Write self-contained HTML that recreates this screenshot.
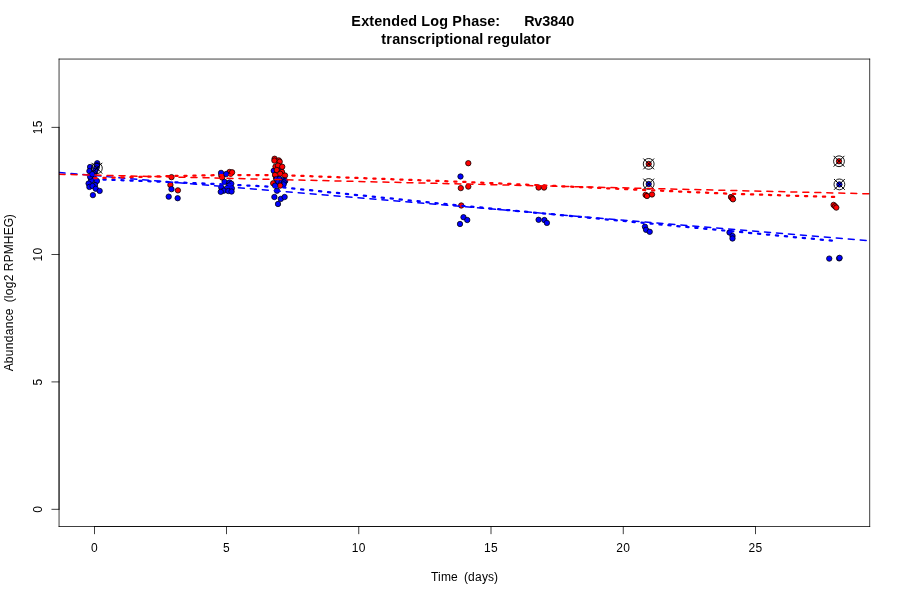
<!DOCTYPE html>
<html lang="en"><head><meta charset="utf-8"><title>Extended Log Phase: Rv3840</title>
<style>html,body{margin:0;padding:0;background:#fff}body{width:900px;height:600px;overflow:hidden}</style></head>
<body>
<svg width="900" height="600" viewBox="0 0 900 600" style="display:block;font-family:'Liberation Sans',Arial,Helvetica,sans-serif">
<rect width="900" height="600" fill="#fff"/>
<defs><clipPath id="c"><rect x="59.04" y="59.04" width="810.72" height="467.52"/></clipPath></defs>
<g clip-path="url(#c)" stroke="#000" stroke-width="0.75">
<circle cx="96.50" cy="167.50" r="2.7" fill="#f00"/><circle cx="91.00" cy="178.50" r="2.7" fill="#f00"/><circle cx="90.10" cy="167.00" r="2.7" fill="#00f"/><circle cx="89.40" cy="171.10" r="2.7" fill="#00f"/><circle cx="97.25" cy="163.25" r="2.7" fill="#00f"/><circle cx="96.90" cy="166.00" r="2.7" fill="#00f"/><circle cx="96.30" cy="168.60" r="2.7" fill="#00f"/><circle cx="95.20" cy="171.00" r="2.7" fill="#00f"/><circle cx="94.00" cy="173.30" r="2.7" fill="#00f"/><circle cx="94.00" cy="178.00" r="2.7" fill="#00f"/><circle cx="91.25" cy="180.50" r="2.7" fill="#00f"/><circle cx="96.90" cy="181.00" r="2.7" fill="#00f"/><circle cx="88.60" cy="183.50" r="2.7" fill="#00f"/><circle cx="95.00" cy="185.00" r="2.7" fill="#00f"/><circle cx="89.40" cy="186.90" r="2.7" fill="#00f"/><circle cx="92.50" cy="186.00" r="2.7" fill="#00f"/><circle cx="95.75" cy="188.75" r="2.7" fill="#00f"/><circle cx="99.65" cy="190.90" r="2.7" fill="#00f"/><circle cx="92.90" cy="195.10" r="2.7" fill="#00f"/><circle cx="96.90" cy="168.20" r="5.4" fill="none" stroke-width="0.9"/><path d="M91.50 162.80L102.30 173.60M91.50 173.60L102.30 162.80" fill="none" stroke-width="1"/><circle cx="90.10" cy="176.75" r="2.7" fill="#00f"/><circle cx="92.20" cy="174.20" r="2.7" fill="#00f"/><circle cx="171.50" cy="177.15" r="2.7" fill="#f00"/><circle cx="170.40" cy="184.90" r="2.7" fill="#f00"/><circle cx="177.90" cy="190.35" r="2.7" fill="#f00"/><circle cx="171.50" cy="189.15" r="2.7" fill="#00f"/><circle cx="168.70" cy="196.65" r="2.7" fill="#00f"/><circle cx="177.65" cy="198.20" r="2.7" fill="#00f"/><circle cx="230.70" cy="173.75" r="2.7" fill="#f00"/><circle cx="229.50" cy="172.00" r="2.7" fill="#f00"/><circle cx="232.10" cy="172.30" r="2.7" fill="#f00"/><circle cx="221.30" cy="175.50" r="2.7" fill="#f00"/><circle cx="222.20" cy="177.55" r="2.7" fill="#f00"/><circle cx="221.05" cy="172.90" r="2.7" fill="#00f"/><circle cx="226.30" cy="174.05" r="2.7" fill="#00f"/><circle cx="224.55" cy="181.90" r="2.7" fill="#00f"/><circle cx="229.50" cy="182.50" r="2.7" fill="#00f"/><circle cx="231.30" cy="183.70" r="2.7" fill="#00f"/><circle cx="228.90" cy="185.70" r="2.7" fill="#00f"/><circle cx="221.30" cy="187.50" r="2.7" fill="#00f"/><circle cx="226.90" cy="188.35" r="2.7" fill="#00f"/><circle cx="231.85" cy="188.35" r="2.7" fill="#00f"/><circle cx="223.70" cy="190.70" r="2.7" fill="#00f"/><circle cx="228.35" cy="191.00" r="2.7" fill="#00f"/><circle cx="220.75" cy="191.85" r="2.7" fill="#00f"/><circle cx="231.55" cy="191.55" r="2.7" fill="#00f"/><circle cx="273.70" cy="170.80" r="2.7" fill="#00f"/><circle cx="280.50" cy="170.00" r="2.7" fill="#00f"/><circle cx="274.60" cy="158.75" r="2.7" fill="#f00"/><circle cx="278.80" cy="160.40" r="2.7" fill="#f00"/><circle cx="274.40" cy="160.60" r="2.7" fill="#f00"/><circle cx="279.70" cy="161.70" r="2.7" fill="#f00"/><circle cx="275.50" cy="166.60" r="2.7" fill="#f00"/><circle cx="278.00" cy="165.60" r="2.7" fill="#f00"/><circle cx="282.25" cy="166.75" r="2.7" fill="#f00"/><circle cx="282.00" cy="172.00" r="2.7" fill="#f00"/><circle cx="276.75" cy="170.00" r="2.7" fill="#f00"/><circle cx="275.00" cy="175.00" r="2.7" fill="#f00"/><circle cx="280.25" cy="173.75" r="2.7" fill="#f00"/><circle cx="285.00" cy="175.50" r="2.7" fill="#f00"/><circle cx="276.00" cy="178.00" r="2.7" fill="#f00"/><circle cx="273.20" cy="183.30" r="2.7" fill="#f00"/><circle cx="276.70" cy="179.00" r="2.7" fill="#00f"/><circle cx="279.50" cy="179.00" r="2.7" fill="#00f"/><circle cx="283.40" cy="180.20" r="2.7" fill="#00f"/><circle cx="285.20" cy="180.90" r="2.7" fill="#00f"/><circle cx="278.30" cy="181.80" r="2.7" fill="#00f"/><circle cx="281.50" cy="182.50" r="2.7" fill="#00f"/><circle cx="284.00" cy="182.40" r="2.7" fill="#00f"/><circle cx="283.60" cy="184.40" r="2.7" fill="#00f"/><circle cx="280.20" cy="185.60" r="2.7" fill="#f00"/><circle cx="275.10" cy="185.60" r="2.7" fill="#00f"/><circle cx="277.00" cy="190.70" r="2.7" fill="#00f"/><circle cx="274.40" cy="197.00" r="2.7" fill="#00f"/><circle cx="280.80" cy="198.90" r="2.7" fill="#00f"/><circle cx="284.60" cy="197.00" r="2.7" fill="#00f"/><circle cx="278.00" cy="204.00" r="2.7" fill="#00f"/><circle cx="468.30" cy="163.20" r="2.7" fill="#f00"/><circle cx="460.80" cy="188.10" r="2.7" fill="#f00"/><circle cx="468.30" cy="186.60" r="2.7" fill="#f00"/><circle cx="461.25" cy="205.50" r="2.7" fill="#f00"/><circle cx="460.50" cy="176.50" r="2.7" fill="#00f"/><circle cx="463.50" cy="217.20" r="2.7" fill="#00f"/><circle cx="467.25" cy="220.00" r="2.7" fill="#00f"/><circle cx="460.00" cy="224.00" r="2.7" fill="#00f"/><circle cx="538.60" cy="187.55" r="2.7" fill="#f00"/><circle cx="544.05" cy="187.55" r="2.7" fill="#f00"/><circle cx="538.60" cy="219.80" r="2.7" fill="#00f"/><circle cx="544.40" cy="220.05" r="2.7" fill="#00f"/><circle cx="546.90" cy="222.90" r="2.7" fill="#00f"/><circle cx="648.70" cy="163.90" r="2.7" fill="#f00"/><circle cx="648.70" cy="163.90" r="5.4" fill="none" stroke-width="0.9"/><path d="M643.30 158.50L654.10 169.30M643.30 169.30L654.10 158.50" fill="none" stroke-width="1"/><circle cx="645.60" cy="194.90" r="2.7" fill="#f00"/><circle cx="647.00" cy="196.00" r="2.7" fill="#f00"/><circle cx="652.00" cy="194.45" r="2.7" fill="#f00"/><circle cx="648.70" cy="184.00" r="2.7" fill="#00f"/><circle cx="648.70" cy="184.00" r="5.4" fill="none" stroke-width="0.9"/><path d="M643.30 178.60L654.10 189.40M643.30 189.40L654.10 178.60" fill="none" stroke-width="1"/><circle cx="644.95" cy="226.75" r="2.7" fill="#00f"/><circle cx="646.05" cy="229.80" r="2.7" fill="#00f"/><circle cx="649.70" cy="231.80" r="2.7" fill="#00f"/><circle cx="731.00" cy="197.00" r="2.7" fill="#f00"/><circle cx="732.30" cy="198.30" r="2.7" fill="#f00"/><circle cx="733.00" cy="199.30" r="2.7" fill="#f00"/><circle cx="729.50" cy="232.50" r="2.7" fill="#00f"/><circle cx="732.50" cy="236.00" r="2.7" fill="#00f"/><circle cx="732.50" cy="238.50" r="2.7" fill="#00f"/><circle cx="839.00" cy="161.25" r="2.7" fill="#f00"/><circle cx="839.00" cy="161.25" r="5.4" fill="none" stroke-width="0.9"/><path d="M833.60 155.85L844.40 166.65M833.60 166.65L844.40 155.85" fill="none" stroke-width="1"/><circle cx="833.60" cy="204.90" r="2.7" fill="#f00"/><circle cx="835.00" cy="206.30" r="2.7" fill="#f00"/><circle cx="836.30" cy="207.60" r="2.7" fill="#f00"/><circle cx="839.40" cy="184.40" r="2.7" fill="#00f"/><circle cx="839.40" cy="184.40" r="5.4" fill="none" stroke-width="0.9"/><path d="M834.00 179.00L844.80 189.80M834.00 189.80L844.80 179.00" fill="none" stroke-width="1"/><circle cx="829.25" cy="258.60" r="2.7" fill="#00f"/><circle cx="839.15" cy="258.40" r="2.7" fill="#00f"/><circle cx="839.60" cy="257.85" r="2.7" fill="#00f"/>
</g>
<g clip-path="url(#c)" fill="none" stroke-linecap="round" stroke-linejoin="round">
<line x1="59.04" y1="172.60" x2="869.76" y2="240.86" stroke="#00f" stroke-width="1.5" stroke-dasharray="6 6"/>
<polyline points="94.40,179.20 173.60,182.20 226.50,184.50 279.40,187.10 464.40,206.00 834.70,240.90" stroke="#00f" stroke-width="2.25" stroke-dasharray="2.25 6.75"/>
<line x1="59.04" y1="174.25" x2="869.76" y2="193.80" stroke="#f00" stroke-width="1.5" stroke-dasharray="6 6"/>
<polyline points="94.40,178.20 173.60,176.00 226.50,175.00 279.40,175.10 464.40,181.90 649.40,190.20 728.70,193.70 834.70,197.00" stroke="#f00" stroke-width="2.25" stroke-dasharray="2.25 6.75"/>
</g>
<g fill="#000">
<rect x="58.665" y="58.665" width="811.470" height="0.75"/><rect x="58.665" y="526.185" width="811.470" height="0.75"/><rect x="58.665" y="58.665" width="0.75" height="468.270"/><rect x="869.385" y="58.665" width="0.75" height="468.270"/>
<rect x="94.025" y="526.185" width="661.750" height="0.75"/>
<rect x="94.025" y="526.185" width="0.75" height="7.950"/>
<rect x="226.225" y="526.185" width="0.75" height="7.950"/>
<rect x="358.425" y="526.185" width="0.75" height="7.950"/>
<rect x="490.625" y="526.185" width="0.75" height="7.950"/>
<rect x="622.825" y="526.185" width="0.75" height="7.950"/>
<rect x="755.025" y="526.185" width="0.75" height="7.950"/>
<rect x="58.665" y="126.905" width="0.75" height="382.710"/>
<rect x="51.465" y="508.865" width="7.950" height="0.75"/>
<rect x="51.465" y="381.545" width="7.950" height="0.75"/>
<rect x="51.465" y="254.225" width="7.950" height="0.75"/>
<rect x="51.465" y="126.905" width="7.950" height="0.75"/>
</g>
<g fill="#000" font-size="12px">
<text x="90.9" y="551.8">0</text>
<text x="223.1" y="551.8">5</text>
<text x="351.8 358.8" y="551.8">10</text>
<text x="484 491" y="551.8">15</text>
<text x="616.2 623.2" y="551.8">20</text>
<text x="748.4 755.4" y="551.8">25</text>
<text transform="translate(42.1,509.24) rotate(-90)" x="-3.5">0</text>
<text transform="translate(42.1,381.92) rotate(-90)" x="-3.5">5</text>
<text transform="translate(42.1,254.60) rotate(-90)" x="-7 0">10</text>
<text transform="translate(42.1,127.28) rotate(-90)" x="-7 0">15</text>
<text x="430.9 437.9 440.9 450.9 457.9 460.9 463.9 467.9 474.9 481.9 487.9 493.9" y="580.7" xml:space="preserve">Time  (days)</text>
<text transform="translate(13.2,292.8) rotate(-90)" x="-78.5 -70.5 -63.5 -56.5 -49.5 -42.5 -35.5 -28.5 -22.5 -15.5 -12.5 -9.5 -5.5 -2.5 4.5 11.5 18.5 21.5 30.5 38.5 48.5 57.5 65.5 74.5" xml:space="preserve">Abundance  (log2 RPMHEG)</text>
</g>
<g fill="#000" font-size="14.4px" font-weight="bold">
<text x="351.2 361.2 369.2 374.2 382.2 391.2 400.2 408.2 417.2 421.2 430.2 439.2 448.2 452.2 462.2 471.2 479.2 487.2 495.2 500.2 504.2 508.2 512.2 516.2 520.2 524.2 534.2 542.2 550.2 558.2 566.2" y="25.6" xml:space="preserve">Extended Log Phase:      Rv3840</text>
<text x="381.2 386.2 392.2 400.2 409.2 417.2 425.2 431.2 435.2 444.2 449.2 453.2 462.2 471.2 479.2 483.2 487.2 493.2 501.2 510.2 519.2 523.2 531.2 536.2 545.2" y="43.6">transcriptional regulator</text>
</g>
</svg>
</body></html>
